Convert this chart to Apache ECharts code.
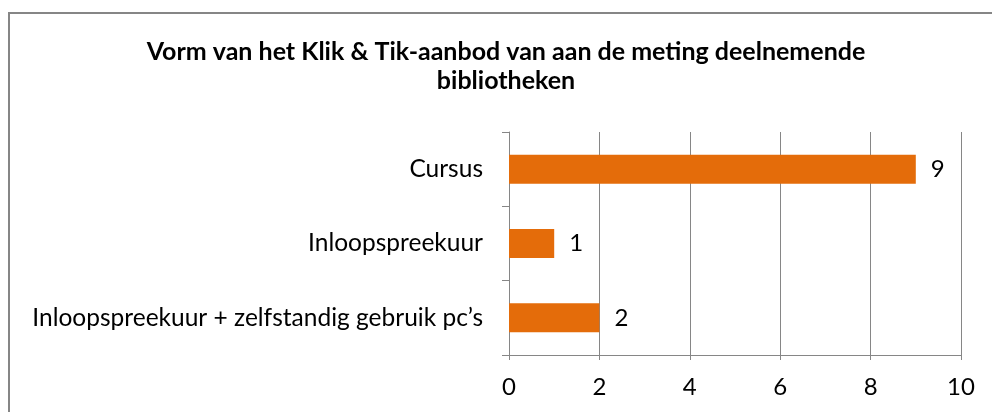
<!DOCTYPE html>
<html>
<head>
<meta charset="utf-8">
<script src="https://cdn.jsdelivr.net/npm/echarts@6/dist/echarts.min.js"></script>
<style>
  html, body { margin: 0; padding: 0; background: #fff; }
  #chart { width: 992px; height: 412px; }
</style>
</head>
<body>
<div id="chart"></div>
<script>
const titleText = 'Vorm van het Klik & Tik-aanbod van aan de meting deelnemende\nbibliotheken';
const categories = ['Cursus', 'Inloopspreekuur', 'Inloopspreekuur + zelfstandig gebruik pc\u2019s'];
const counts = [9, 1, 2];

const gray = '#868686';
const font = 'Lato, "Open Sans", sans-serif';

const chart = echarts.init(document.getElementById('chart'), null, { renderer: 'canvas' });

chart.setOption({
  animation: false,
  backgroundColor: '#fff',
  graphic: [{
    type: 'rect',
    shape: { x: 9, y: 13, width: 1000, height: 500 },
    style: { fill: 'none', stroke: gray, lineWidth: 2 },
    silent: true
  }],
  title: {
    text: titleText,
    left: 501,
    textAlign: 'center',
    top: 32,
    textStyle: {
      fontFamily: font,
      fontWeight: 'bold',
      fontSize: 25,
      lineHeight: 29,
      color: '#000'
    }
  },
  grid: { left: 509, right: 31, top: 132, bottom: 57 },
  xAxis: {
    type: 'value',
    min: 0,
    max: 10,
    interval: 2,
    axisLine: { show: true, lineStyle: { color: gray } },
    axisTick: { show: true, length: 5, lineStyle: { color: gray } },
    splitLine: { show: true, lineStyle: { color: gray } },
    axisLabel: { fontFamily: font, fontSize: 24, color: '#000', margin: 20 }
  },
  yAxis: {
    type: 'category',
    data: categories,
    inverse: true,
    axisLine: { show: true, lineStyle: { color: gray } },
    axisTick: { show: true, length: 7, lineStyle: { color: gray } },
    axisLabel: { fontFamily: font, fontSize: 24.5, color: '#000', margin: 26 }
  },
  series: [{
    type: 'bar',
    data: counts,
    barWidth: '39%',
    itemStyle: { color: '#E46C0A' },
    label: {
      show: true,
      position: 'right',
      distance: 15,
      fontFamily: font,
      fontSize: 24,
      color: '#000'
    }
  }]
});
</script>
</body>
</html>
